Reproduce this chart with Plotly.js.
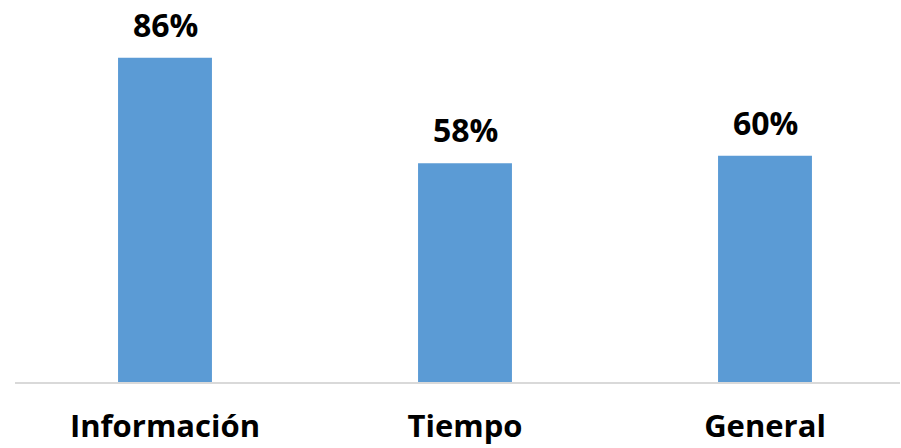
<!DOCTYPE html>
<html><head><meta charset="utf-8">
<script src="https://cdn.plot.ly/plotly-3.0.1.min.js"></script>
<style>html,body{margin:0;padding:0;background:#fff}#chart{width:901px;height:448px}</style>
</head><body><div id="chart"></div>
<script>
const categories = ["Información", "Tiempo", "General"];
const values = [86, 58, 60];
const valueLabels = ["86%", "58%", "60%"];

const labelFont = {family: 'Open Sans', size: 32, color: '#000', weight: 'bold'};

const trace = {
  type: 'bar',
  x: categories,
  y: values,
  marker: {color: '#5B9BD5'},
  width: 0.313,
  hoverinfo: 'none'
};

const annotations = categories.map((c, i) => ({
  x: c, y: values[i], xref: 'x', yref: 'y',
  text: valueLabels[i], showarrow: false,
  yanchor: 'bottom', yshift: 10,
  font: labelFont
}));

const layout = {
  width: 901, height: 448,
  margin: {l: 15, r: 1, t: 5, b: 66},
  paper_bgcolor: '#fff', plot_bgcolor: '#fff',
  showlegend: false,
  annotations: annotations,
  xaxis: {
    range: [-0.5, 2.45],
    showline: true, linecolor: '#D9D9D9', linewidth: 2,
    ticks: '', showgrid: false, zeroline: false,
    tickfont: {family: 'Open Sans', size: 31, color: '#000', weight: 'bold'},
    ticklabelstandoff: 16
  },
  yaxis: {
    range: [0, 100], visible: false, showgrid: false, zeroline: false
  }
};

Plotly.newPlot('chart', [trace], layout, {displayModeBar: false, staticPlot: true});
</script></body></html>
